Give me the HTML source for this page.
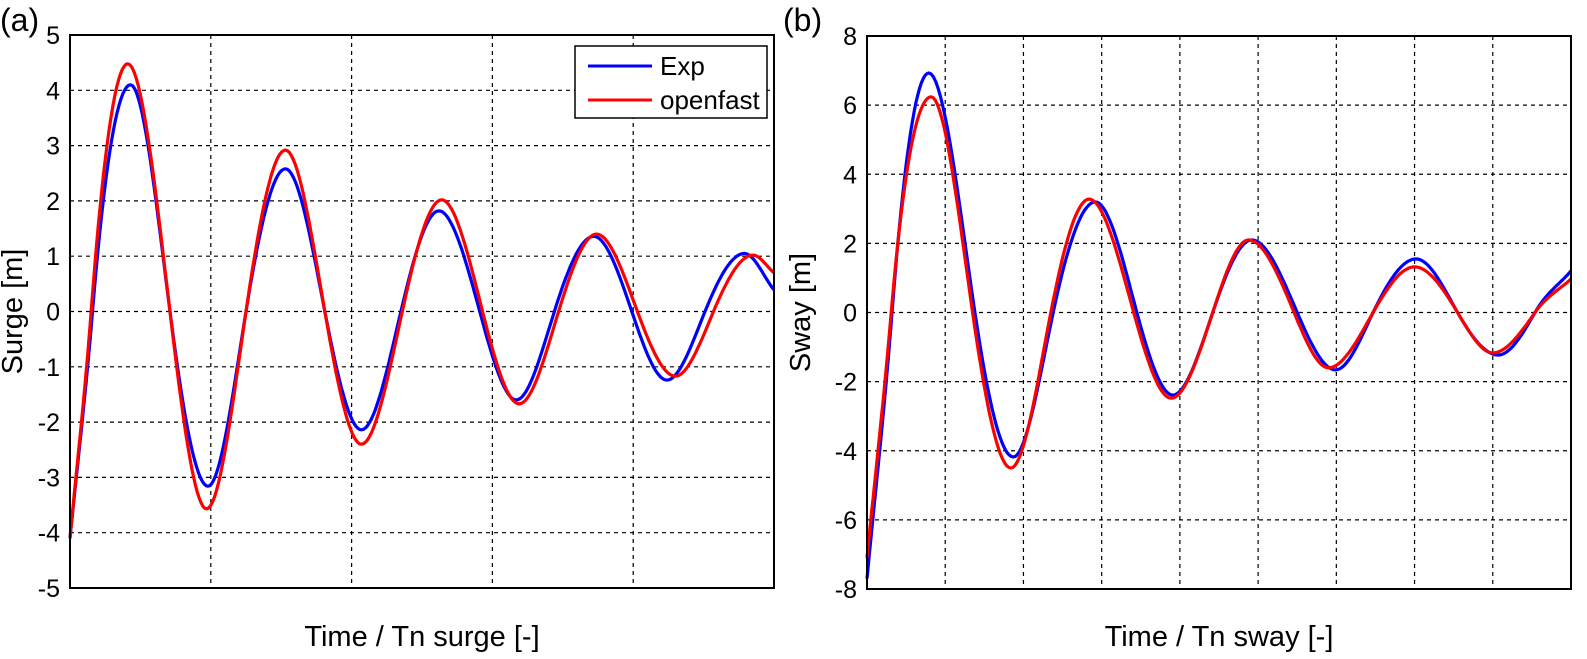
<!DOCTYPE html>
<html><head><meta charset="utf-8"><style>
html,body{margin:0;padding:0;background:#fff;}
svg{display:block;font-family:"Liberation Sans",sans-serif;}
</style></head><body>
<svg id="fig" width="1587" height="659" viewBox="0 0 1587 659" xmlns="http://www.w3.org/2000/svg"></svg>
<script>
// ---- Panel (a) data ----
const surgeTicks = [5,4,3,2,1,0,-1,-2,-3,-4,-5];
const surgeExpT = [0,0.16,0.43,0.71,0.98,1.25,1.53,1.81,2.07,2.35,2.62,2.91,3.17,3.44,3.72,3.99,4.24,4.51,4.79,5];
const surgeExpY = [-4.1,0,4.1,0,-3.16,0,2.58,0,-2.14,0,1.82,0,-1.6,0,1.36,0,-1.24,0,1.05,0.39];
const surgeOfT = [0,0.15,0.41,0.71,0.97,1.25,1.53,1.81,2.07,2.36,2.64,2.93,3.19,3.47,3.74,4.03,4.30,4.57,4.85,5];
const surgeOfY = [-4.1,0,4.48,0,-3.57,0,2.92,0,-2.4,0,2.02,0,-1.67,0,1.4,0,-1.17,0,1.02,0.7];
// ---- Panel (b) data ----
const swayTicks = [8,6,4,2,0,-2,-4,-6,-8];
const swayExpT = [0,0.32,0.79,1.38,1.87,2.38,2.92,3.45,3.91,4.42,4.92,5.5,5.99,6.47,7.02,7.55,8.07,8.54,9];
const swayExpY = [-7.7,0,6.93,0,-4.18,0,3.2,0,-2.39,0,2.1,0,-1.66,0,1.55,0,-1.23,0,1.2];
const swayOfT = [0,0.31,0.82,1.35,1.84,2.35,2.84,3.41,3.89,4.42,4.88,5.46,5.9,6.47,7.0,7.55,8.0,8.54,9];
const swayOfY = [-7.1,0,6.24,0,-4.5,0,3.28,0,-2.48,0,2.1,0,-1.6,0,1.32,0,-1.17,0,0.97];

const NS = "http://www.w3.org/2000/svg";
const svg = document.getElementById('fig');
function mk(tag, attrs, parent){
  const e = document.createElementNS(NS, tag);
  for (const k in attrs) e.setAttribute(k, attrs[k]);
  (parent||svg).appendChild(e);
  return e;
}
// cubic hermite sampling (zero extremum slopes, sine-like steep crossings)
function sample(ts, ys, n){
  const m = ts.length, d = [], s = [];
  for (let i=0;i<m-1;i++) s.push((ys[i+1]-ys[i])/(ts[i+1]-ts[i]));
  for (let i=0;i<m;i++){
    if (i===0) d.push(s[0]); else if (i===m-1) d.push(s[m-2]);
    else d.push(s[i-1]*s[i]<=0 ? 0 : 1.5*(s[i-1]+s[i])/2);
  }
  const out = [];
  for (let i=0;i<m-1;i++){
    const h = ts[i+1]-ts[i];
    for (let k=0;k<n;k++){
      const u = k/n, h00=2*u*u*u-3*u*u+1, h10=u*u*u-2*u*u+u, h01=-2*u*u*u+3*u*u, h11=u*u*u-u*u;
      out.push([ts[i]+u*h, h00*ys[i]+h10*h*d[i]+h01*ys[i+1]+h11*h*d[i+1]]);
    }
  }
  out.push([ts[m-1], ys[m-1]]);
  return out;
}

function panel(p){
  const g = mk('g', {});
  
  
  const X = v => p.x0 + (v - p.xmin)/(p.xmax - p.xmin)*(p.x1 - p.x0);
  const Y = v => p.y1 - (v - p.ymin)/(p.ymax - p.ymin)*(p.y1 - p.y0);
  for (let i=1;i<p.xdiv;i++){
    const v = p.xmin + i*(p.xmax-p.xmin)/p.xdiv;
    const l = mk('line',{x1:X(v),x2:X(v),y1:p.y0,y2:p.y1,stroke:'#000','stroke-width':1.2,'stroke-dasharray':'4,4'},g);
    
    
  }
  p.ticks.forEach(v=>{
    if (v!==p.ymin && v!==p.ymax){
      const l = mk('line',{x1:p.x0,x2:p.x1,y1:Y(v),y2:Y(v),stroke:'#000','stroke-width':1.2,'stroke-dasharray':'4,4'},g);
      
      
    }
    const t = mk('text',{x:p.x0-10,y:Y(v)+9,'text-anchor':'end','font-size':25,fill:'#000'},g);
    t.textContent = String(v);
    
    
  });
  p.series.forEach(s=>{
    const pts = sample(s.t, s.y, 20).map(q=>X(q[0]).toFixed(1)+','+Y(q[1]).toFixed(1)).join(' ');
    const pl = mk('polyline',{points:pts,fill:'none',stroke:s.color,'stroke-width':3.2,'stroke-linejoin':'round'},g);
    
    
  });
  const box = mk('rect',{x:p.x0,y:p.y0,width:p.x1-p.x0,height:p.y1-p.y0,fill:'none',stroke:'#000','stroke-width':2},g);
  
  
  const yl = mk('text',{x:0,y:0,'text-anchor':'middle','font-size':29,fill:'#000',transform:`translate(${p.ylx},${(p.y0+p.y1)/2}) rotate(-90)`},g);
  yl.textContent = p.ylabel;
  
  
  const xl = mk('text',{x:(p.x0+p.x1)/2,y:646,'text-anchor':'middle','font-size':29,fill:'#000'},g);
  xl.textContent = p.xlabel;
  
  
  const pn = mk('text',{x:p.plx,y:31,'font-size':32,fill:'#000'},g);
  pn.textContent = p.panel;
  
  
}

panel({name:'surge-chart',x0:70,x1:774,y0:35,y1:588,xmin:0,xmax:5,xdiv:5,ymin:-5,ymax:5,ticks:surgeTicks,
  ylabel:'Surge [m]',xlabel:'Time / Tn surge [-]',panel:'(a)',ylx:22,plx:0,
  series:[{name:'surge-exp-line',t:surgeExpT,y:surgeExpY,color:'#0000ff'},{name:'surge-openfast-line',t:surgeOfT,y:surgeOfY,color:'#ff0000'}]});
panel({name:'sway-chart',x0:867,x1:1571,y0:36,y1:589,xmin:0,xmax:9,xdiv:9,ymin:-8,ymax:8,ticks:swayTicks,
  ylabel:'Sway [m]',xlabel:'Time / Tn sway [-]',panel:'(b)',ylx:810,plx:783,
  series:[{name:'sway-exp-line',t:swayExpT,y:swayExpY,color:'#0000ff'},{name:'sway-openfast-line',t:swayOfT,y:swayOfY,color:'#ff0000'}]});

const lg = mk('g',{});


mk('rect',{x:575,y:46,width:192,height:72,fill:'#fff',stroke:'#000','stroke-width':1.5},lg);
const entries = [['Exp','#0000ff',66],['openfast','#ff0000',100]];
entries.forEach(e=>{
  const eg = mk('g',{},lg);
  
  
  mk('line',{x1:588,x2:652,y1:e[2],y2:e[2],stroke:e[1],'stroke-width':3},eg);
  const t = mk('text',{x:660,y:e[2]+9,'font-size':26,fill:'#000'},eg);
  t.textContent = e[0];
});
</script>
</body></html>
